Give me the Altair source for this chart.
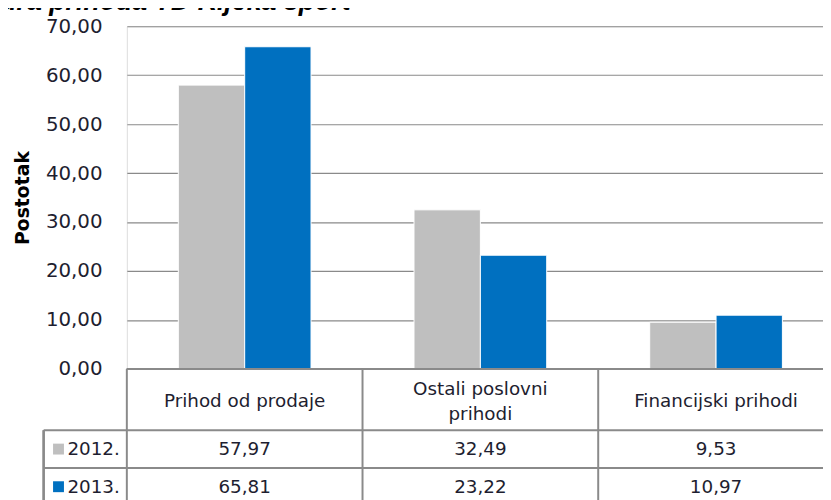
import altair as alt
import pandas as pd

categories = ["Prihod od prodaje", "Ostali poslovni\nprihodi", "Financijski prihodi"]
years = ["2012.", "2013."]
values_2012 = [57.97, 32.49, 9.53]
values_2013 = [65.81, 23.22, 10.97]
title_text = "Struktura prihoda TD Rijeka sport"

rows = []
for c, a, b in zip(categories, values_2012, values_2013):
    rows.append({"cat": c, "year": years[0], "value": a})
    rows.append({"cat": c, "year": years[1], "value": b})
df = pd.DataFrame(rows)
cats_df = pd.DataFrame({"cat": categories, "nl": [c.count("\n") + 1 for c in categories]})
years_df = pd.DataFrame({"year": years})

W, H = 703, 346
GRAY = "#8a8a8a"
FONT = "DejaVu Sans"
TXT = "#1e1e30"

xscale = alt.Scale(domain=categories, range=[0, 714], paddingInner=0, paddingOuter=0)
color = alt.Color("year:N", scale=alt.Scale(domain=years, range=["#bfbfbf", "#0070c0"]), legend=None)
rowscale = alt.Scale(type="point", domain=years, range=[427, 465], padding=0)
linescale = alt.Scale(type="point", domain=years, range=[408, 446], padding=0)
headscale = alt.Scale(type="point", domain=[1, 2], range=[378, 366], padding=0)

bars = alt.Chart(df).mark_bar(stroke="white", strokeWidth=1).encode(
    x=alt.X("cat:N", scale=xscale, axis=None, sort=categories),
    xOffset=alt.XOffset("year:N", scale=alt.Scale(domain=years, paddingInner=0, paddingOuter=0.776)),
    y=alt.Y("value:Q", scale=alt.Scale(domain=[0, 70], nice=False),
            axis=alt.Axis(values=[0, 10, 20, 30, 40, 50, 60, 70], grid=True, gridColor=GRAY,
                          gridWidth=1.2, domain=False, ticks=False, labelPadding=25,
                          labelExpr="replace(format(datum.value, '.2f'), '.', ',')",
                          labelFont=FONT, labelFontSize=20, labelColor=TXT,
                          title="Postotak", titleFont=FONT, titleFontSize=19,
                          titleFontWeight="bold", titleColor="black", titlePadding=13)),
    color=color,
)

# table vertical lines at band boundaries
vlines = alt.Chart(cats_df).mark_rule(color=GRAY, strokeWidth=2).encode(
    x=alt.X("cat:N", scale=xscale, sort=categories, bandPosition=0),
    y=alt.value(H), y2=alt.value(480),
)
left_border = alt.Chart(cats_df).mark_rule(color=GRAY, strokeWidth=2).encode(
    x=alt.value(-84), y=alt.value(408), y2=alt.value(480),
)
hlines = alt.Chart(years_df).mark_rule(color=GRAY, strokeWidth=2).encode(
    y=alt.Y("year:N", scale=linescale, axis=None),
    x=alt.value(-84), x2=alt.value(W),
)
bottom_line = alt.Chart(cats_df).mark_rule(color=GRAY, strokeWidth=2).encode(
    y=alt.value(H), x=alt.value(0), x2=alt.value(W),
)

header = alt.Chart(cats_df).mark_text(font=FONT, fontSize=18.5, color=TXT, lineBreak="\n",
                                      lineHeight=26, baseline="middle").encode(
    x=alt.X("cat:N", scale=xscale, sort=categories),
    y=alt.Y("nl:O", scale=headscale, axis=None),
    text="cat:N",
)

cells = alt.Chart(df).transform_calculate(
    label="replace(format(datum.value, '.2f'), '.', ',')"
).mark_text(font=FONT, fontSize=18.5, color=TXT, baseline="middle").encode(
    x=alt.X("cat:N", scale=xscale, sort=categories),
    y=alt.Y("year:N", scale=rowscale, axis=None),
    text="label:N",
)

row_labels = alt.Chart(years_df).mark_text(font=FONT, fontSize=18.5, color=TXT, align="left",
                                           baseline="middle").encode(
    x=alt.value(-60),
    y=alt.Y("year:N", scale=rowscale, axis=None),
    text="year:N",
)
swatches = alt.Chart(years_df).mark_square(size=121, opacity=1).encode(
    x=alt.value(-69),
    y=alt.Y("year:N", scale=rowscale, axis=None),
    color=color,
)

title = alt.Chart(cats_df.head(1)).mark_text(font="Liberation Sans", fontSize=27, fontWeight="bold",
                                             fontStyle="italic", align="right",
                                             baseline="alphabetic", color="black").encode(
    x=alt.value(226), y=alt.value(-16), text=alt.value(title_text),
)

chart = alt.layer(
    bars, bottom_line, vlines, left_border, hlines, header, cells, row_labels, swatches, title
).resolve_scale(y="independent").properties(
    width=W, height=H,
    autosize=alt.AutoSizeParams(type="none"),
    padding={"left": 120, "top": 16, "right": 0, "bottom": 130},
).configure_view(stroke=GRAY, strokeWidth=1.5).configure(background="white")

chart.save("out.html", embed_options={"renderer": "svg", "actions": False})
